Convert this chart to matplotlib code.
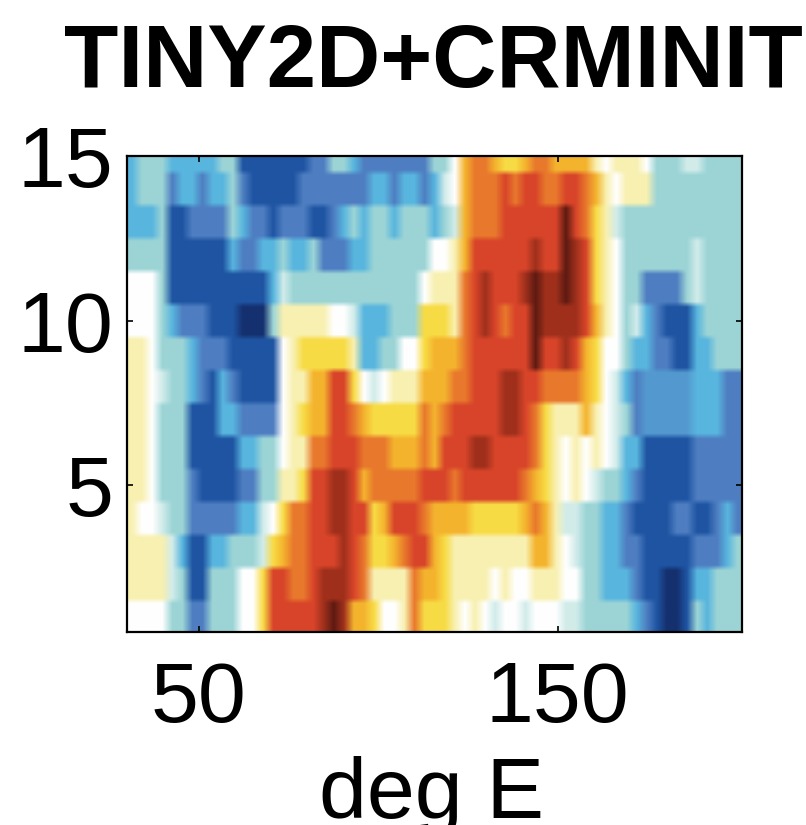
import numpy as np
import matplotlib
matplotlib.use("Agg")
import matplotlib.pyplot as plt
from matplotlib.colors import LinearSegmentedColormap, Normalize

title = "TINY2D+CRMINIT"
xlabel = "deg E"
xticks = [50, 150]
yticks = [5, 10, 15]

row_15 = [-3,-2,-2,-2,-3,-3,-3,-3,-3,-2,-2,-5,-5,-5,-5,-5,-5,-5,-4,-4,-2,-2,-3,-4,-4,-4,-4,-4,-4,-4,
          -2,-2,0,3,4,4,3,2,2,3,4,4,3,3,3,3,1,0,1,1,1,0,-2,-2,-2,-1,-1,-2,-2,-2,-2]
row_14 = [-3,-2,-2,-2,-4,-3,-3,-4,-3,-3,-2,-4,-5,-5,-5,-5,-5,-4,-4,-4,-4,-4,-4,-4,-3,-3,-4,-3,-3,-4,
          -3,-1,0,3,4,4,4,5,4,5,5,4,4,5,5,4,3,1,0,1,1,1,-2,-2,-2,-2,-2,-2,-2,-2,-2]
row_13 = [-3,-3,-3,-2,-5,-5,-4,-4,-4,-4,-2,-3,-4,-4,-5,-4,-4,-4,-5,-5,-4,-3,-2,-3,-2,-2,-3,-2,-2,-2,
          -3,-2,-1,3,4,4,4,5,5,5,5,5,5,7,5,4,2,1,-1,-2,-2,-2,-2,-2,-2,-2,-2,-2,-2,-2,-2]
row_12 = [-2,-2,-2,-2,-5,-5,-5,-5,-5,-5,-3,-4,-4,-3,-3,-2,-3,-3,-2,-4,-4,-4,-3,-3,-2,-2,-2,-2,-2,-2,
          0,0,1,3,5,5,5,5,5,5,6,5,5,7,6,5,2,1,0,-2,-2,-2,-2,-2,-2,-2,-1,-2,-2,-2,-2]
row_11 = [0,0,0,-2,-5,-5,-5,-5,-5,-5,-5,-5,-5,-5,-3,-1,-2,-2,-2,-2,-2,-2,-2,-2,-2,-2,-2,-2,-2,0,
          1,1,1,4,5,6,5,5,5,6,7,6,6,7,6,5,2,1,0,-2,-2,-4,-4,-4,-4,-2,-1,-2,-2,-2,-2]
row_10 = [0,0,0,-2,-3,-4,-4,-4,-5,-5,-5,-6,-6,-6,-2,1,1,1,1,1,0,0,-1,-3,-3,-3,-2,-2,-2,2,
          2,2,1,4,5,6,5,4,5,5,7,6,6,6,6,5,3,1,0,-2,-1,-3,-4,-5,-5,-5,-3,-2,-2,-2,-2]
row_9 = [1,1,0,-2,-2,-2,-3,-4,-4,-4,-5,-5,-5,-5,-5,0,1,2,2,2,2,2,1,-3,-3,-2,-2,0,0,2,
         3,3,3,4,5,5,5,5,5,5,7,5,5,6,5,3,2,0,0,-2,-3,-3,-4,-4,-5,-5,-3,-3,-2,-2,-2]
row_8 = [1,1,0,-1,-2,-2,-3,-4,-5,-3,-4,-5,-5,-5,-5,0,1,1,3,3,5,5,2,0,-1,0,1,1,1,3,
         3,3,4,4,5,5,5,6,6,5,5,4,4,4,4,3,2,0,-1,-3,-4,-3.5,-3.5,-3.5,-3.5,-3.5,-3,-3,-3,-4,-4]
row_7 = [1,1,0,-2,-2,-2,-5,-5,-5,-3,-3,-4,-4,-4,-4,0,1,2,3,3,5,5,4,3,2,2,2,2,2,4,
         3,4,5,5,5,5,5,6,6,5,4,2,1,1,1,3,1,0,-1,-2,-4,-3.5,-3.5,-3.5,-3.5,-3.5,-3,-3,-3,-4,-4]
row_6 = [1,1,0,-2,-2,-2,-5,-5,-5,-5,-5,-3,-3,-2,-2,0,1,1,4,4,5,5,5,4,4,4,3,3,3,4,
         3,5,5,5,6,6,5,5,5,5,4,2,1,0,1,0,1,0,-1,-3,-3,-5,-5,-5,-5,-5,-4,-4,-4,-4,-4]
row_5 = [1,1,0,-2,-2,-2,-4,-5,-5,-5,-5,-4,-4,-2,-2,1,1,2,5,5,6,6,5,3,4,4,4,4,4,5,
         5,5,4,5,5,5,5,5,5,4,3,2,1,0,1,0,-1,-2,-2,-3,-4,-5,-5,-5,-5,-5,-4,-4,-4,-4,-4]
row_4 = [1,0,0,-1,-2,-2,-4,-4,-4,-4,-4,-3,-3,-1,0,2,4,4,5,5,6,6,5,5,2,3,5,5,5,4,
         3,3,3,3,2,2,2,2,2,3,4,3,1,-1,-1,-2,-2,-3,-3,-4,-5,-5,-5,-5,-4,-4,-5,-5,-4,-3,-4]
row_3 = [1,1,1,1,-1,-3,-5,-5,-3,-3,-2,-2,-2,-1,2,3,4,4,5,5,5,6,5,4,2,2,3,4,5,5,
         3,2,1,1,1,1,1,1,1,1,3,3,1,0,-1,-2,-2,-3,-3,-4,-4,-5,-5,-5,-5,-5,-4,-4,-4,-3,-2]
row_2 = [1,1,1,1,-1,-2,-5,-5,-2,-2,-2,0,0,2,5,5,4,4,5,6,6,6,5,4,1,1,1,1,4,3,
         3,2,1,1,1,1,0,1,0,0,1,1,1,0,0,-2,-2,-3,-3,-3,-4,-5,-5,-6,-6,-5,-3,-3,-2,-2,-2]
row_1 = [0,0,0,0,-2,-2,-4,-4,-2,-2,-2,0,0,2,5,5,5,5,5,6,7,6,3,3,2,0,0,1,4,2,
         2,2,1,0,1,0,-1,0,0,-1,0,0,0,-1,-1,-2,-2,-2,-2,-2,-3,-4,-5,-6,-6,-5,-2,-3,-2,-2,-2]

grid = np.array([row_1, row_2, row_3, row_4, row_5, row_6, row_7, row_8,
                 row_9, row_10, row_11, row_12, row_13, row_14, row_15], dtype=float)
lon_edges = 30.0 + 2.8125 * np.arange(grid.shape[1] + 1)
lev_edges = 0.5 + np.arange(grid.shape[0] + 1)

colors = ["#15306f", "#1f55a3", "#4f7fc2", "#58b5de", "#9dd5d6", "#d2ecea", "#ffffff",
          "#f8f0b0", "#f8dc45", "#f4b42e", "#e8782c", "#d9452a", "#a0301c", "#5e1a12"]
cmap = LinearSegmentedColormap.from_list("blue_red", colors, N=512)
norm = Normalize(-6, 7)

W, H = 806, 825
plt.rcParams["font.family"] = ["Liberation Sans", "DejaVu Sans"]
fig = plt.figure(figsize=(W / 100, H / 100), dpi=100)
ax = fig.add_axes([127 / W, 1 - 632 / H, (742 - 127) / W, (632 - 156) / H])
# rows stay blocky while columns are softly blended, as in the scanned original
ax.imshow(np.repeat(grid, 6, axis=0), cmap=cmap, norm=norm, origin="lower", aspect="auto",
          extent=(lon_edges[0], lon_edges[-1], lev_edges[0], lev_edges[-1]),
          interpolation="bilinear", interpolation_stage="rgba")
ax.set_xlim(30, 201.4)
ax.set_ylim(0.55, 15)
ax.set_xticks(xticks)
ax.set_yticks(yticks)
ax.tick_params(direction="in", length=4, width=1.2, top=True, right=True, labelsize=62)
ax.tick_params(axis="x", pad=20)
ax.tick_params(axis="y", pad=10)
for s in ax.spines.values():
    s.set_linewidth(1.6)
fig.text(433.5 / W, 1 - 87 / H, title, ha="center", va="baseline", fontsize=64, fontweight="bold")
fig.text(432 / W, 1 - 818 / H, xlabel, ha="center", va="baseline", fontsize=62)
fig.text(437 / W, 1 - (-16.5) / H, "g", ha="center", va="baseline", fontsize=58, fontweight="bold")
fig.savefig("out.png", dpi=100)
